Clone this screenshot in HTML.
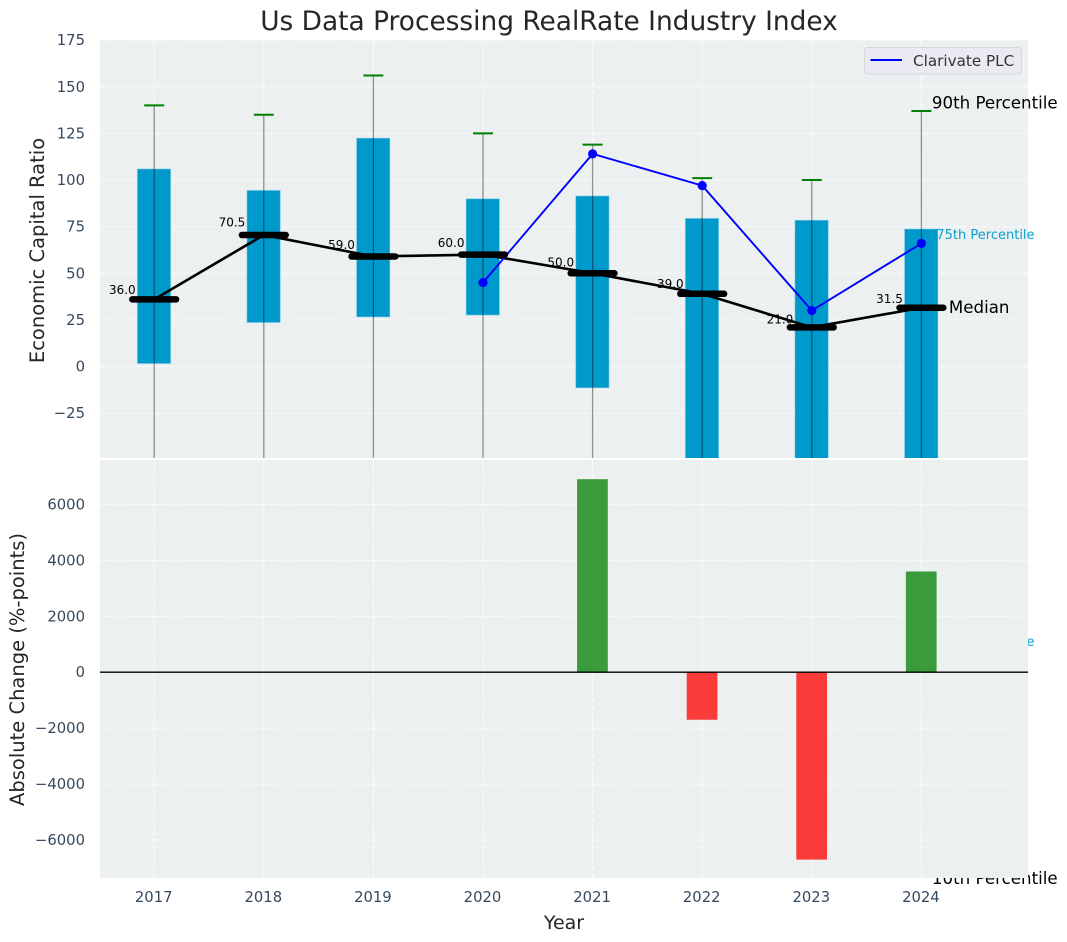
<!DOCTYPE html>
<html lang="en">
<head>
<meta charset="utf-8">
<title>Us Data Processing RealRate Industry Index</title>
<style>
html,body{margin:0;padding:0;background:#fff;width:1067px;height:942px;overflow:hidden}
svg{display:block;font-family:"DejaVu Sans","Liberation Sans",sans-serif}
</style>
</head>
<body>
<svg id="chart" xmlns="http://www.w3.org/2000/svg" width="1067" height="942" viewBox="0 0 1067 942">
  <defs>
    <clipPath id="top-clip"><rect x="100" y="40" width="928" height="418"></rect></clipPath>
    <clipPath id="bottom-clip"><rect x="100" y="460" width="928" height="418"></rect></clipPath>
  </defs>
  <rect width="1067" height="942" fill="#fff"></rect>
  <text x="549" y="30" text-anchor="middle" font-size="26.4" fill="#262626">Us Data Processing RealRate Industry Index</text>
  <g id="top-axes"></g>
  <g id="bottom-axes"></g>
  <text transform="translate(44,250.5) rotate(-90)" text-anchor="middle" font-size="19.5" fill="#262626">Economic Capital Ratio</text>
  <text transform="translate(24,669.5) rotate(-90)" text-anchor="middle" font-size="19.5" fill="#262626">Absolute Change (%-points)</text>
  <text x="564" y="929" text-anchor="middle" font-size="19" fill="#262626">Year</text>
</svg>
<script>
const years = [2017, 2018, 2019, 2020, 2021, 2022, 2023, 2024];
const p90 = [140, 135, 156, 125, 119, 101, 100, 137];
const p75 = [106, 94.5, 122.5, 90, 91.5, 79.5, 78.5, 73.8];
const medians = [36, 70.5, 59, 60, 50, 39, 21, 31.5];
const p25 = [1.5, 23.5, 26.5, 27.5, -11.5, -60, -60, -60];
const p10 = [-110, -110, -110, -110, -110, -110, -110, -110];
const companyYears = [2020, 2021, 2022, 2023, 2024];
const companyValues = [45, 114, 97, 30, 66];
const changeYears = [2021, 2022, 2023, 2024];
const changeValues = [6900, -1700, -6700, 3600];
const topTicks = [-25, 0, 25, 50, 75, 100, 125, 150, 175];
const bottomTicks = [-6000, -4000, -2000, 0, 2000, 4000, 6000];

const NS = 'http://www.w3.org/2000/svg';
const topG = document.getElementById('top-axes');
const botG = document.getElementById('bottom-axes');
const LEFT = 100, RIGHT = 1028;
const xScale = y => 154.2 + (y - 2017) * 109.6;
const yTop = v => 366.5 - v * 1.865;
const yBot = v => 672.2 - v * 0.02797;
const fmtTick = v => (v < 0 ? '\u2212' + Math.abs(v) : String(v));

function mk(parent, tag, attrs, text) {
  const el = document.createElementNS(NS, tag);
  for (const k in attrs) el.setAttribute(k, attrs[k]);
  if (text !== undefined) el.textContent = text;
  parent.appendChild(el);
  return el;
}
function off(el) {
  
}

/* ---------- top axes ---------- */
const topBg = mk(topG, 'rect', {x: LEFT, y: 40, width: RIGHT - LEFT, height: 418, fill: '#ecf0f1'});

off(topBg);

const topClip = mk(topG, 'g', {'clip-path': 'url(#top-clip)'});

off(topClip);

topTicks.forEach(t => {
  const g = mk(topClip, 'line', {x1: LEFT, x2: RIGHT, y1: yTop(t), y2: yTop(t), stroke: '#fff', 'stroke-width': 1, 'stroke-dasharray': '5 2', opacity: 0.85});
  
  off(g);
  const l = mk(topG, 'text', {x: 85, y: yTop(t) + 5, 'text-anchor': 'end', 'font-size': 14.8, fill: '#34495e'}, fmtTick(t));
  
  off(l);
});
years.forEach(y => {
  const g = mk(topClip, 'line', {x1: xScale(y), x2: xScale(y), y1: 40, y2: 458, stroke: '#fff', 'stroke-width': 1, 'stroke-dasharray': '5 2', opacity: 0.85});
  
  off(g);
});

years.forEach((y, i) => {
  const cx = xScale(y);
  const box = mk(topClip, 'rect', {x: cx - 17, y: yTop(p75[i]), width: 33.6, height: yTop(p25[i]) - yTop(p75[i]), fill: '#0099cc', stroke: '#bfe3ef', 'stroke-opacity': 0.55, 'stroke-width': 1});
  
  off(box);
  const w = mk(topClip, 'line', {x1: cx, x2: cx, y1: yTop(p90[i]), y2: yTop(p10[i]), stroke: '#000', 'stroke-opacity': 0.42, 'stroke-width': 1.3});
  
  off(w);
  const cap = mk(topClip, 'line', {x1: cx - 10, x2: cx + 10, y1: yTop(p90[i]), y2: yTop(p90[i]), stroke: '#008000', 'stroke-width': 2});
  
  off(cap);
});

const medianPath = mk(topClip, 'polyline', {points: years.map((y, i) => xScale(y) + ',' + yTop(medians[i])).join(' '), fill: 'none', stroke: '#000', 'stroke-width': 2.6});

off(medianPath);

const companyLine = mk(topClip, 'polyline', {points: companyYears.map((y, i) => xScale(y) + ',' + yTop(companyValues[i])).join(' '), fill: 'none', stroke: '#0000ff', 'stroke-width': 1.9});

off(companyLine);
companyYears.forEach((y, i) => {
  const p = mk(topClip, 'circle', {cx: xScale(y), cy: yTop(companyValues[i]), r: 4.6, fill: '#0000ff'});
  
  off(p);
});

years.forEach((y, i) => {
  const cx = xScale(y), cy = yTop(medians[i]);
  const m = mk(topClip, 'line', {x1: cx - 21.9, x2: cx + 21.9, y1: cy, y2: cy, stroke: '#000', 'stroke-width': 6.5, 'stroke-linecap': 'round'});
  
  off(m);
  const t = mk(topG, 'text', {x: cx - 18.5, y: yTop(medians[i] * 1.05) - 2, 'text-anchor': 'end', 'font-size': 12, fill: '#000'}, medians[i].toFixed(1));
  
  off(t);
});

const lastX = xScale(2024);
const t90 = mk(topG, 'text', {x: lastX + 10.5, y: yTop(p90[7]) - 2.5, 'font-size': 16.67, fill: '#000'}, '90th Percentile');

off(t90);
const t75 = mk(topG, 'text', {x: lastX + 15, y: yTop(p75[7]) + 10, 'font-size': 13, fill: '#0099cc', 'fill-opacity': 0.95}, '75th Percentile');

off(t75);
const tMed = mk(topG, 'text', {x: lastX + 27.5, y: yTop(medians[7]) + 5, 'font-size': 16.67, fill: '#000'}, 'Median');

off(tMed);
const t25 = mk(topG, 'text', {x: lastX + 15, y: 646, 'font-size': 13, fill: '#0099cc', 'fill-opacity': 0.95}, '25th Percentile');

off(t25);
const t10 = mk(topG, 'text', {x: lastX + 10.5, y: 884, 'font-size': 16.67, fill: '#000'}, '10th Percentile');

off(t10);

/* legend */
const legend = mk(topG, 'g', {});

off(legend);
const legendBox = mk(legend, 'rect', {x: 864.5, y: 47.5, width: 157, height: 26.5, rx: 3, fill: '#eaeaf2', stroke: '#d6d6dd', 'stroke-width': 1});

off(legendBox);
const legendLine = mk(legend, 'line', {x1: 870.5, x2: 902, y1: 60, y2: 60, stroke: '#0000ff', 'stroke-width': 2});

off(legendLine);
const legendText = mk(legend, 'text', {x: 913, y: 66, 'font-size': 15.2, fill: '#333'}, 'Clarivate PLC');

off(legendText);

/* ---------- bottom axes ---------- */
const botBg = mk(botG, 'rect', {x: LEFT, y: 460, width: RIGHT - LEFT, height: 418, fill: '#ecf0f1'});

off(botBg);
const botClip = mk(botG, 'g', {'clip-path': 'url(#bottom-clip)'});

off(botClip);

bottomTicks.forEach(t => {
  const g = mk(botClip, 'line', {x1: LEFT, x2: RIGHT, y1: yBot(t), y2: yBot(t), stroke: '#fff', 'stroke-width': 1, 'stroke-dasharray': '5 2', opacity: 0.85});
  
  off(g);
  const l = mk(botG, 'text', {x: 85, y: yBot(t) + 5, 'text-anchor': 'end', 'font-size': 14.8, fill: '#34495e'}, fmtTick(t));
  
  off(l);
});
years.forEach(y => {
  const g = mk(botClip, 'line', {x1: xScale(y), x2: xScale(y), y1: 460, y2: 878, stroke: '#fff', 'stroke-width': 1, 'stroke-dasharray': '5 2', opacity: 0.85});
  
  off(g);
  const l = mk(botG, 'text', {x: xScale(y) - 0.5, y: 902, 'text-anchor': 'middle', 'font-size': 14.8, fill: '#34495e'}, String(y));
  
  off(l);
});
changeYears.forEach((y, i) => {
  const v = changeValues[i];
  const top = Math.min(yBot(v), yBot(0));
  const h = Math.abs(yBot(v) - yBot(0));
  const b = mk(botClip, 'rect', {x: xScale(y) - 15.5, y: top, width: 30.7, height: h, fill: v >= 0 ? '#008000' : '#ff0000', 'fill-opacity': 0.76});
  
  off(b);
});
const zero = mk(botClip, 'line', {x1: LEFT, x2: RIGHT, y1: yBot(0), y2: yBot(0), stroke: '#000', 'stroke-width': 1.4});

off(zero);
</script>
</body>
</html>
